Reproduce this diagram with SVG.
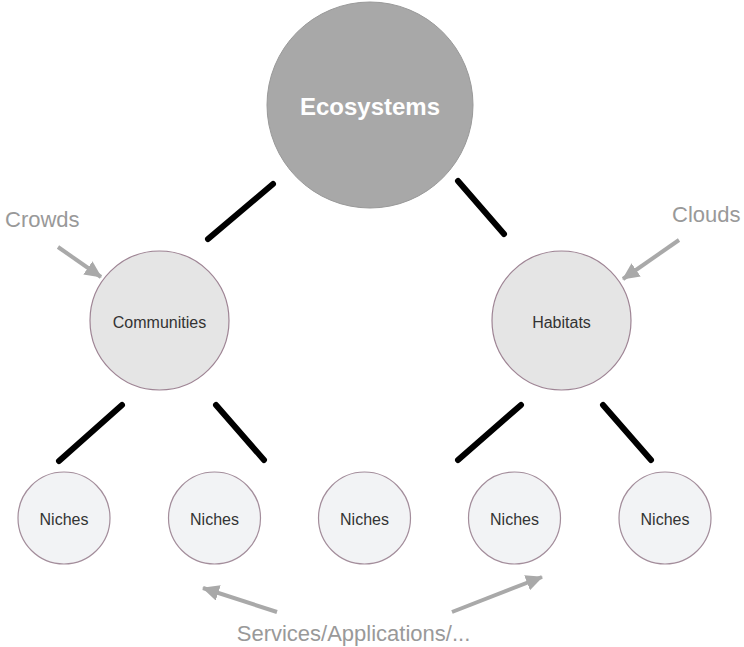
<svg xmlns="http://www.w3.org/2000/svg" width="744" height="647" viewBox="0 0 744 647">
  <style>
    text { font-family: "Liberation Sans", Arial, Helvetica, sans-serif; }
    .big { fill: #a8a8a8; stroke: #999999; stroke-width: 1; }
    .mid { fill: #e5e5e5; stroke: #9e8494; stroke-width: 1.2; }
    .small { fill: #f2f3f5; stroke: #a38d9b; stroke-width: 1.2; }
    .label { fill: #333333; font-size: 16px; text-anchor: middle; }
    .note { fill: #999999; font-size: 22px; }
    .edge { stroke: #000000; stroke-width: 6; stroke-linecap: round; fill: none; }
    .pointer { stroke: #a9a9a9; stroke-width: 4; fill: none; marker-end: url(#head); }
  </style>
  <defs>
    <marker id="head" markerUnits="userSpaceOnUse" markerWidth="18" markerHeight="16" refX="16" refY="8" orient="auto">
      <path d="M0,0 L17,8 L0,16 Z" fill="#a9a9a9"/>
    </marker>
  </defs>
  <rect width="744" height="647" fill="#ffffff"/>

  <g id="connectors">
    <line class="edge" x1="273" y1="184" x2="208" y2="239"/>
    <line class="edge" x1="458" y1="181" x2="504" y2="234"/>
    <line class="edge" x1="122" y1="405" x2="59" y2="461"/>
    <line class="edge" x1="216" y1="405" x2="264" y2="460"/>
    <line class="edge" x1="521" y1="405" x2="458" y2="460"/>
    <line class="edge" x1="603" y1="405" x2="651" y2="460"/>
    <line class="pointer" x1="58" y1="247" x2="101" y2="277"/>
    <line class="pointer" x1="679" y1="240" x2="623" y2="279"/>
    <line class="pointer" x1="277" y1="612" x2="203" y2="588"/>
    <line class="pointer" x1="452" y1="612" x2="542" y2="577"/>
  </g>

  <g id="ecosystems">
    <circle class="big" cx="370" cy="105" r="103"/>
    <text x="370" y="115" fill="#ffffff" font-size="24" font-weight="bold" text-anchor="middle">Ecosystems</text>
  </g>

  <g id="communities">
    <circle class="mid" cx="159.5" cy="320.5" r="69.5"/>
    <text class="label" x="159.5" y="328">Communities</text>
  </g>

  <g id="habitats">
    <circle class="mid" cx="561.5" cy="320.5" r="69.5"/>
    <text class="label" x="561.5" y="328">Habitats</text>
  </g>

  <g id="niches1">
    <circle class="small" cx="64" cy="518" r="46"/>
    <text class="label" x="64" y="525">Niches</text>
  </g>
  <g id="niches2">
    <circle class="small" cx="214.5" cy="518" r="46"/>
    <text class="label" x="214.5" y="525">Niches</text>
  </g>
  <g id="niches3">
    <circle class="small" cx="364.5" cy="518" r="46"/>
    <text class="label" x="364.5" y="525">Niches</text>
  </g>
  <g id="niches4">
    <circle class="small" cx="514.5" cy="518" r="46"/>
    <text class="label" x="514.5" y="525">Niches</text>
  </g>
  <g id="niches5">
    <circle class="small" cx="665" cy="518" r="46"/>
    <text class="label" x="665" y="525">Niches</text>
  </g>

  <g id="crowds">
    <text class="note" x="5" y="227">Crowds</text>
  </g>
  <g id="clouds">
    <text class="note" x="672" y="222">Clouds</text>
  </g>
  <g id="services">
    <text class="note" x="353.5" y="641" font-size="23" text-anchor="middle">Services/Applications/...</text>
  </g>
</svg>
